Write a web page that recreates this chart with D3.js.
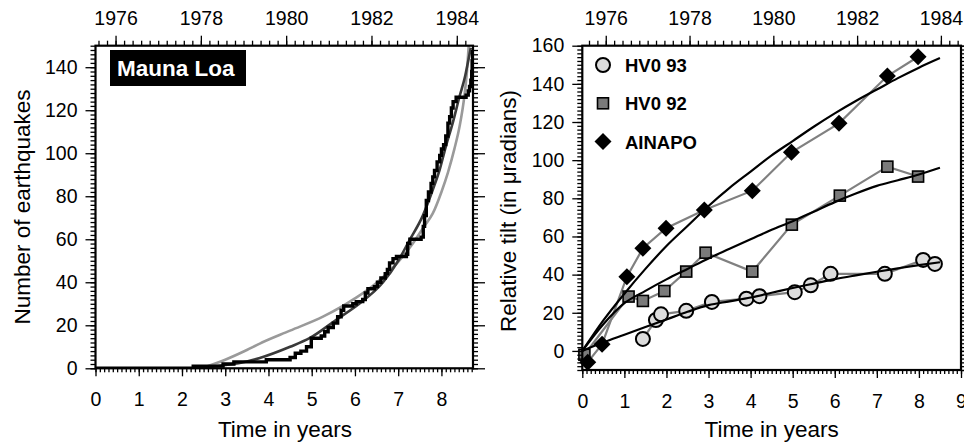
<!DOCTYPE html>
<html><head><meta charset="utf-8">
<script src="https://cdn.jsdelivr.net/npm/d3@7"></script>
<style>body{margin:0;background:#fff}</style>
</head><body><script>
var W = 964, H = 445;
var FONT = "'Liberation Sans', Arial, Helvetica, sans-serif";

// left panel: cumulative earthquake count (step) and two fitted curves
var stepT = [0, 2.26, 2.95, 3.2, 3.95, 4.5, 4.62, 4.75, 4.88, 4.99, 5.22, 5.3, 5.38, 5.5, 5.6, 5.68, 5.74, 5.95, 6.03, 6.18, 6.24, 6.3, 6.45, 6.52, 6.6, 6.7, 6.75, 6.8, 6.88, 6.96, 7.19, 7.22, 7.27, 7.53, 7.58, 7.61, 7.65, 7.7, 7.76, 7.8, 7.84, 7.9, 7.96, 8.0, 8.05, 8.1, 8.15, 8.19, 8.23, 8.27, 8.34, 8.57, 8.62, 8.65, 8.68, 8.7, 8.71, 8.72];
var stepN = [0, 1, 2, 3, 4, 5, 7, 8, 10, 14, 15, 17, 19, 21, 24, 27, 29, 30, 31, 32, 35, 37, 38, 40, 42, 44, 46, 49, 51, 52, 53, 58, 60, 61, 66, 71, 78, 82, 86, 89, 92, 96, 99, 102, 104, 108, 114, 117, 121, 124, 126, 127, 129, 131, 134, 138, 143, 148];
var darkT = [2.3, 3.0, 3.5, 3.8, 4.5, 4.95, 5.6, 6.1, 6.65, 7.0, 7.26, 7.57, 7.8, 7.96, 8.1, 8.26, 8.42, 8.55, 8.61, 8.68];
var darkN = [0, 1.5, 3.2, 4.8, 10, 14, 23, 30, 40, 50, 59.5, 71, 83, 92.4, 103, 114, 126.5, 136, 142, 149];
var lightT = [2.45, 3.0, 3.5, 3.8, 4.5, 5.26, 6.0, 6.49, 7.0, 7.3, 7.6, 7.8, 8.0, 8.15, 8.3, 8.42, 8.53, 8.59, 8.63];
var lightN = [0, 4, 8.5, 11.5, 17.5, 24, 32.5, 39.6, 49.5, 57, 66, 72, 82, 91, 102, 112.5, 126.5, 138, 150];

// right panel: tilt measurements
var hv93T = [1.44, 1.75, 1.87, 2.47, 3.08, 3.9, 4.21, 5.05, 5.43, 5.9, 7.19, 8.1, 8.38];
var hv93V = [6.3, 16.2, 19.2, 21, 25.7, 27.4, 28.7, 30.8, 34.4, 40.4, 40.4, 47.7, 45.6];
var hv92T = [0.05, 1.1, 1.44, 1.95, 2.47, 2.93, 4.04, 4.98, 6.12, 7.25, 7.98];
var hv92V = [-2, 28.5, 26.2, 31.4, 41.6, 51.5, 41.6, 66.2, 81.4, 96.6, 91.4];
var ainapoT = [0.13, 0.47, 1.06, 1.44, 1.99, 2.9, 4.04, 4.97, 6.1, 7.25, 7.98];
var ainapoV = [-5.9, 3.5, 38.9, 53.8, 64.3, 73.9, 84, 104.1, 119.3, 144.1, 154.2];
var fitT = [0, 0.5, 1, 1.5, 2, 2.5, 3, 3.5, 4, 4.5, 5, 5.5, 6, 6.5, 7, 7.5, 8, 8.5];
var fitAinapo = [0, 16, 30, 43, 55, 65.5, 76, 85.5, 94, 102.5, 110, 117.5, 124.5, 131, 137, 143, 148.5, 153.5];
var fitHv92 = [0, 14, 25, 31.5, 37.5, 43, 48.5, 53.5, 58.5, 63.5, 68, 73, 78, 82.5, 86.5, 89.5, 92.5, 96];
var fitHv93 = [0, 4.5, 8.5, 12.5, 16.5, 20.5, 24, 26, 28, 30.5, 33, 35.3, 37.6, 39.6, 41.5, 43.3, 45, 46.5];

var legendNames = ["HV0 93", "HV0 92", "AINAPO"];
var yearTicks = [1976, 1978, 1980, 1982, 1984];
var yearSpanLeft = [1975.53, 1984.38];
var yearSpanRight = [1975.44, 1984.48];

var svg = d3.select("body").append("svg")
    .attr("width", W)
    .attr("height", H)
    .style("display", "block");

var pts = function(xs, ys) {
    return xs.map(function(d, i) { return [d, ys[i]]; });
};

var steps = function(a, b, s) {
    var out = [];
    for (var i = Math.round(a / s); i * s <= b + 1e-9; i++) out.push(+(i * s).toFixed(4));
    return out;
};

var drawAxis = function(axisFn, scale, values, size, labels, pad, tx, ty) {
    var g = svg.append("g")
        .attr("transform", "translate(" + tx + "," + ty + ")")
        .call(axisFn(scale).tickValues(values).tickSize(size).tickPadding(pad)
            .tickFormat(labels ? d3.format("d") : ""));
    g.select(".domain").remove();
    g.selectAll("line").attr("stroke", "#000").attr("stroke-width", 1.3);
    g.selectAll("text").attr("font-family", FONT).attr("font-size", 19.5).attr("fill", "#000");
    return g;
};

var drawFrame = function(x, y, yMinor, yMajor, xMax, years) {
    var x0 = x.range()[0], x1 = x.range()[1], y0 = y.range()[0], y1 = y.range()[1];
    var xd = x.domain(), yd = y.domain();
    var yr = d3.scaleLinear().domain(years).range([x0, x1]);

    drawAxis(d3.axisBottom, x, steps(0, xd[1], 0.1), 4, false, 0, 0, y0);
    drawAxis(d3.axisBottom, x, steps(0, xMax, 1), 8, true, 16, 0, y0);
    drawAxis(d3.axisLeft, y, steps(yd[0], yd[1], 2), 5, false, 0, x0, 0);
    drawAxis(d3.axisLeft, y, yMajor, 10, true, 8, x0, 0);
    drawAxis(d3.axisRight, y, steps(yd[0], yd[1], 2), 5, false, 0, x1, 0);
    drawAxis(d3.axisRight, y, yMajor.concat(yMinor), 12, false, 0, x1, 0);
    drawAxis(d3.axisTop, yr, steps(1975.6, years[1], 0.2).filter(function(d) { return d >= years[0]; }), 5, false, 0, 0, y1);
    drawAxis(d3.axisTop, yr, yearTicks, 10, true, 11, 0, y1);

    svg.append("rect")
        .attr("x", x0).attr("y", y1)
        .attr("width", x1 - x0).attr("height", y0 - y1)
        .attr("fill", "none").attr("stroke", "#000").attr("stroke-width", 2.2);
};

// ---------- left panel ----------
var xL = d3.scaleLinear().domain([0, 8.73]).range([95.5, 473]);
var yL = d3.scaleLinear().domain([0, 150]).range([368.3, 45.7]);

svg.append("clipPath").attr("id", "clipL").append("rect")
    .attr("x", 95.5).attr("y", 45.7).attr("width", 377.5).attr("height", 322.6);

var lineL = d3.line()
    .x(function(d) { return xL(d[0]); })
    .y(function(d) { return yL(d[1]); })
    .curve(d3.curveMonotoneX);

var gL = svg.append("g").attr("clip-path", "url(#clipL)");
gL.append("path").datum(pts(lightT, lightN))
    .attr("d", lineL).attr("fill", "none").attr("stroke", "#9a9a9a").attr("stroke-width", 2.6);
gL.append("path").datum(pts(darkT, darkN))
    .attr("d", lineL).attr("fill", "none").attr("stroke", "#3a3a3a").attr("stroke-width", 2.6);
gL.append("path").datum(pts(stepT, stepN))
    .attr("d", lineL.curve(d3.curveStepAfter))
    .attr("fill", "none").attr("stroke", "#000").attr("stroke-width", 3.4);

drawFrame(xL, yL, [], steps(0, 140, 20), 8, yearSpanLeft);

svg.append("rect").attr("x", 110).attr("y", 50).attr("width", 136).attr("height", 36).attr("fill", "#000");
svg.append("text").attr("x", 117).attr("y", 76)
    .attr("font-family", FONT).attr("font-size", 22.5).attr("font-weight", "bold")
    .attr("fill", "#fff").text("Mauna Loa");

svg.append("text")
    .attr("transform", "translate(30,207) rotate(-90)")
    .attr("text-anchor", "middle")
    .attr("font-family", FONT).attr("font-size", 22.5)
    .text("Number of earthquakes");
svg.append("text")
    .attr("x", 285).attr("y", 437)
    .attr("text-anchor", "middle")
    .attr("font-family", FONT).attr("font-size", 22.5)
    .text("Time in years");

// ---------- right panel ----------
var xR = d3.scaleLinear().domain([0, 9]).range([582.3, 961]);
var yR = d3.scaleLinear().domain([-10, 160]).range([370, 45.7]);

var lineR = d3.line()
    .x(function(d) { return xR(d[0]); })
    .y(function(d) { return yR(d[1]); });

var series = [
    {t: hv93T, v: hv93V, shape: "circle"},
    {t: hv92T, v: hv92V, shape: "square"},
    {t: ainapoT, v: ainapoV, shape: "diamond"}
];
var fits = [fitHv93, fitHv92, fitAinapo];

var marker = function(sel, shape) {
    if (shape === "circle") {
        sel.append("circle").attr("r", 7).attr("fill", "#dcdcdc").attr("stroke", "#000").attr("stroke-width", 2);
    } else if (shape === "square") {
        sel.append("rect").attr("x", -5.5).attr("y", -5.5).attr("width", 11).attr("height", 11)
            .attr("fill", "#7a7a7a").attr("stroke", "#000").attr("stroke-width", 1.6);
    } else {
        sel.append("path").attr("d", "M0,-8.5L8.5,0L0,8.5L-8.5,0Z").attr("fill", "#000");
    }
};

series.forEach(function(s) {
    svg.append("path").datum(pts(s.t, s.v))
        .attr("d", lineR).attr("fill", "none").attr("stroke", "#808080").attr("stroke-width", 2.2);
});
series.forEach(function(s) {
    svg.selectAll(null).data(pts(s.t, s.v)).enter().append("g")
        .attr("transform", function(d) { return "translate(" + xR(d[0]) + "," + yR(d[1]) + ")"; })
        .each(function() { marker(d3.select(this), s.shape); });
});
fits.forEach(function(f) {
    svg.append("path").datum(pts(fitT, f))
        .attr("d", lineR.curve(d3.curveMonotoneX))
        .attr("fill", "none").attr("stroke", "#000").attr("stroke-width", 2.2);
});

drawFrame(xR, yR, [-10], steps(0, 160, 20), 9, yearSpanRight);

legendNames.forEach(function(name, i) {
    var ly = 65 + i * 38.3;
    marker(svg.append("g").attr("transform", "translate(603," + ly + ")"), series[i].shape);
    svg.append("text").attr("x", 625).attr("y", ly + 7)
        .attr("font-family", FONT).attr("font-size", 18.5).attr("font-weight", "bold")
        .text(name);
});

svg.append("text")
    .attr("transform", "translate(516,211) rotate(-90)")
    .attr("text-anchor", "middle")
    .attr("font-family", FONT).attr("font-size", 22.5)
    .text("Relative tilt (in \u03bcradians)");
svg.append("text")
    .attr("x", 771.7).attr("y", 437)
    .attr("text-anchor", "middle")
    .attr("font-family", FONT).attr("font-size", 22.5)
    .text("Time in years");
</script></body></html>
